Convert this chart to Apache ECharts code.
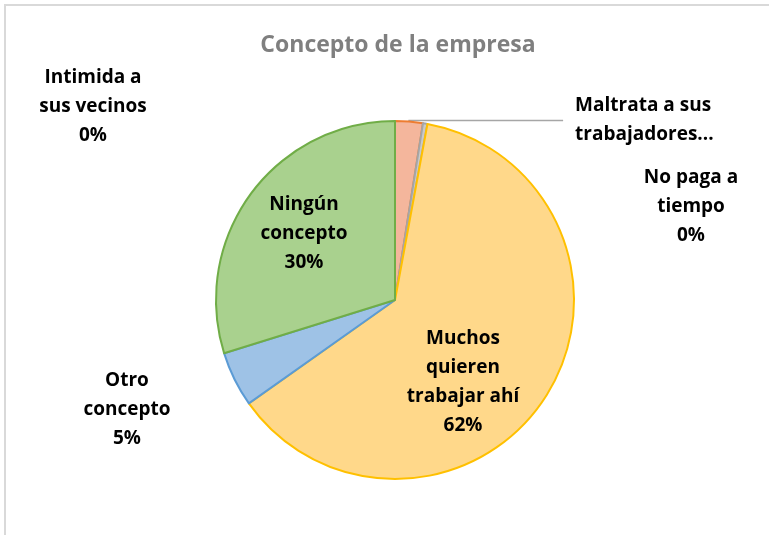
<!DOCTYPE html>
<html>
<head>
<meta charset="utf-8">
<script src="https://cdn.jsdelivr.net/npm/echarts@6/dist/echarts.min.js"></script>
<style>
html,body{margin:0;padding:0;background:#fff;}
#chart{width:769px;height:535px;}
</style>
</head>
<body>
<div id="chart"></div>
<script>
// ---- data ----
const titleText = 'Concepto de la empresa';
const categories = ['Intimida a sus vecinos', 'Maltrata a sus trabajadores', 'No paga a tiempo', 'Muchos quieren trabajar ahí', 'Otro concepto', 'Ningún concepto'];
const values = [0, 2.5, 0.4, 62.3, 5.0, 29.8];
const labelTexts = ['Intimida a\nsus vecinos', 'Maltrata a sus\ntrabajadores...', 'No paga a\ntiempo', 'Muchos\nquieren\ntrabajar ahí', 'Otro\nconcepto', 'Ningún\nconcepto'];
const showPercent = [true, false, true, true, true, true];

// ---- styles / layout ----
const fills = ['#B4C7E7', '#F4B69C', '#C9C9C9', '#FFD88A', '#9EC2E6', '#A9D18E'];
const borders = ['#4472C4', '#ED7D31', '#A5A5A5', '#FFC000', '#5B9BD5', '#70AD47'];
const labelCenters = [[93, 107], null, [691, 207], [463, 382], [127, 410], [304, 234]];
const FONT = '"Open Sans", Lato, sans-serif';

const chart = echarts.init(document.getElementById('chart'), null, {renderer: 'canvas'});

const data = categories.map((name, i) => {
  const item = {
    name: name,
    value: values[i],
    itemStyle: {color: fills[i], borderColor: borders[i], borderWidth: values[i] === 0 ? 0 : 2},
    labelLine: {show: i === 1}
  };
  if (i === 1) {
    item.label = {padding: [0, 0, 50, 0], align: 'left'};
  }
  return item;
});

chart.setOption({
  animation: false,
  backgroundColor: '#ffffff',
  graphic: [{
    type: 'rect',
    shape: {x: 5, y: 5, width: 900, height: 700},
    style: {fill: 'none', stroke: '#D9D9D9', lineWidth: 2},
    silent: true,
    z: -10
  }],
  title: {
    text: titleText,
    left: 393,
    textAlign: 'center',
    top: 29,
    textStyle: {fontFamily: FONT, fontSize: 23, fontWeight: 'bold', color: '#7F7F7F'}
  },
  series: [{
    type: 'pie',
    center: [395, 300],
    radius: [0, 179],
    startAngle: 90,
    clockwise: true,
    avoidLabelOverlap: false,
    emphasis: {disabled: true},
    data: data,
    label: {
      show: true,
      position: 'outside',
      fontFamily: FONT,
      fontSize: 19,
      fontWeight: 'bold',
      color: '#000000',
      lineHeight: 29,
      distanceToLabelLine: 12,
      formatter: p => labelTexts[p.dataIndex] + (showPercent[p.dataIndex] ? '\n' + Math.round(p.percent) + '%' : '')
    },
    labelLine: {
      show: false,
      length: 1,
      length2: 154,
      minTurnAngle: 0,
      maxSurfaceAngle: 180,
      lineStyle: {color: '#A6A6A6', width: 1.5}
    },
    labelLayout: function (params) {
      const c = labelCenters[params.dataIndex];
      if (!c) return {};
      return {x: c[0], y: c[1], align: 'center', verticalAlign: 'middle'};
    }
  }]
});
</script>
</body>
</html>
